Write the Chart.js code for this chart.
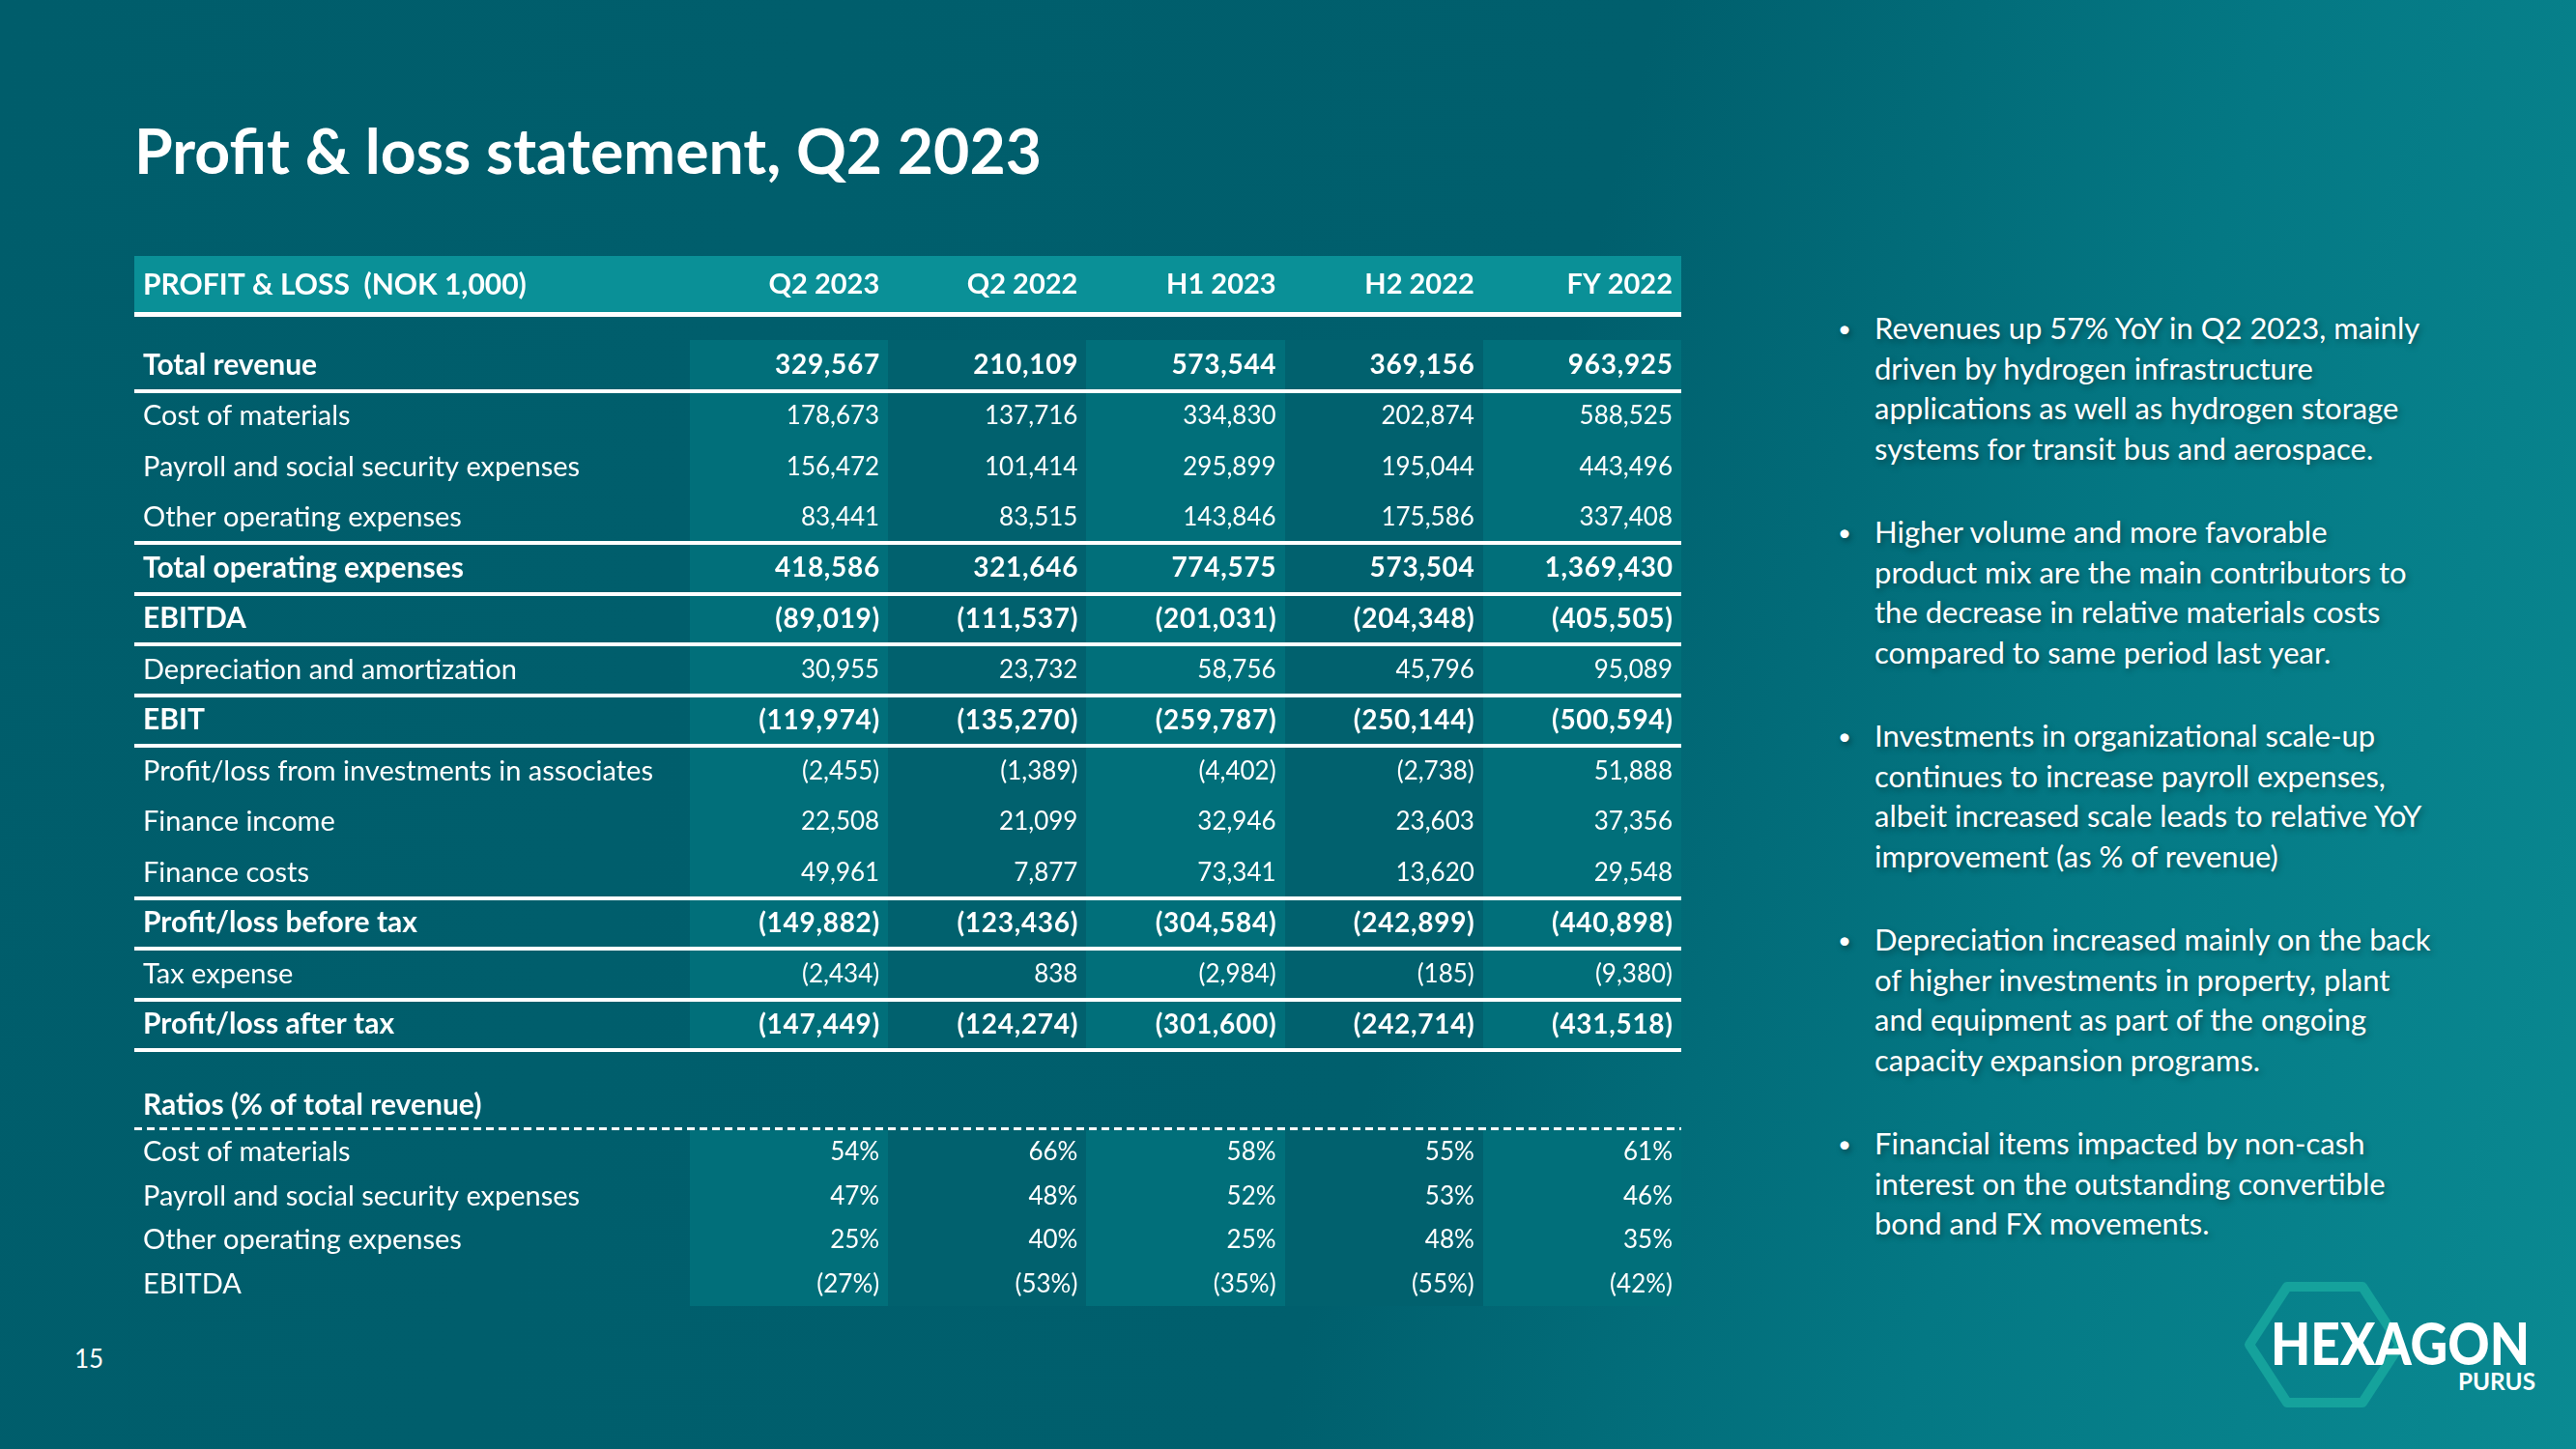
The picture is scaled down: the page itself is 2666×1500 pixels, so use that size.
<!DOCTYPE html>
<html>
<head>
<meta charset="utf-8">
<script src="https://cdn.jsdelivr.net/npm/chart.js@4.4.1/dist/chart.umd.min.js"></script>
<style>
html,body{margin:0;padding:0;}
body{width:2666px;height:1500px;overflow:hidden;position:relative;
  background:linear-gradient(105deg,#005d6b 0%,#005f6d 56%,#047884 77%,#0a8a92 100%);
  font-family:Lato,'Open Sans',sans-serif;color:#fff;}
#titleSvg{position:absolute;left:0;top:0;}
#mainWrap{position:absolute;left:139px;top:265px;width:1601px;height:844px;}
#ratioWrap{position:absolute;left:139px;top:1110px;width:1601px;height:264px;}
#notes{position:absolute;left:1908px;top:319px;margin:0;padding:0;list-style:none;
  font-size:31px;line-height:41.5px;text-shadow:2px 3px 6px rgba(0,0,0,0.35);}
#notes li{position:relative;padding-left:32px;white-space:nowrap;margin-bottom:45px;}
#notes li::before{content:'\2022';position:absolute;left:-6px;top:0;font-size:24px;}
#pageNo{position:absolute;left:77px;top:1390px;font-size:26px;line-height:32px;}
#logo{position:absolute;left:2300px;top:1300px;}
</style>
</head>
<body>
<svg id="titleSvg" width="1200" height="230">
  <text x="139" y="180" font-family="Lato" font-weight="700" font-size="65" fill="#ffffff"
        textLength="939" lengthAdjust="spacingAndGlyphs">Profit &amp; loss statement, Q2 2023</text>
</svg>

<div id="mainWrap"><canvas id="mainChart" width="1601" height="844"></canvas></div>
<div id="ratioWrap"><canvas id="ratioChart" width="1601" height="264"></canvas></div>

<ul id="notes">
  <li>Revenues up 57% YoY in Q2 2023, mainly<br>driven by hydrogen infrastructure<br>applications as well as hydrogen storage<br>systems for transit bus and aerospace.</li>
  <li>Higher volume and more favorable<br>product mix are the main contributors to<br>the decrease in relative materials costs<br>compared to same period last year.</li>
  <li>Investments in organizational scale-up<br>continues to increase payroll expenses,<br>albeit increased scale leads to relative YoY<br>improvement (as % of revenue)</li>
  <li>Depreciation increased mainly on the back<br>of higher investments in property, plant<br>and equipment as part of the ongoing<br>capacity expansion programs.</li>
  <li>Financial items impacted by non-cash<br>interest on the outstanding convertible<br>bond and FX movements.</li>
</ul>

<div id="pageNo">15</div>

<svg id="logo" width="366" height="200">
  <polygon points="28,92 67,32 145,32 184,92 145,152 67,152" fill="none" stroke="#18a89f" stroke-width="10" stroke-linejoin="round" opacity="0.85"/>
  <text x="50" y="113" font-family="Lato" font-weight="900" font-size="60" fill="#ffffff" textLength="268" lengthAdjust="spacingAndGlyphs">HEXAGON</text>
  <text x="244" y="139" font-family="Lato" font-weight="700" font-size="25" fill="#ffffff" textLength="80" lengthAdjust="spacingAndGlyphs">PURUS</text>
</svg>

<script>
// ---------------- DATA ----------------
const tableTitle = 'PROFIT & LOSS  (NOK 1,000)';
const columns = ['Q2 2023', 'Q2 2022', 'H1 2023', 'H2 2022', 'FY 2022'];

const rowLabels = [
  'Total revenue',
  'Cost of materials',
  'Payroll and social security expenses',
  'Other operating expenses',
  'Total operating expenses',
  'EBITDA',
  'Depreciation and amortization',
  'EBIT',
  'Profit/loss from investments in associates',
  'Finance income',
  'Finance costs',
  'Profit/loss before tax',
  'Tax expense',
  'Profit/loss after tax'
];
const subtotalRows = ['Total revenue', 'Total operating expenses', 'EBITDA', 'EBIT',
  'Profit/loss before tax', 'Profit/loss after tax'];

const q2_2023 = [329567, 178673, 156472, 83441, 418586, -89019, 30955, -119974, -2455, 22508, 49961, -149882, -2434, -147449];
const q2_2022 = [210109, 137716, 101414, 83515, 321646, -111537, 23732, -135270, -1389, 21099, 7877, -123436, 838, -124274];
const h1_2023 = [573544, 334830, 295899, 143846, 774575, -201031, 58756, -259787, -4402, 32946, 73341, -304584, -2984, -301600];
const h2_2022 = [369156, 202874, 195044, 175586, 573504, -204348, 45796, -250144, -2738, 23603, 13620, -242899, -185, -242714];
const fy_2022 = [963925, 588525, 443496, 337408, 1369430, -405505, 95089, -500594, 51888, 37356, 29548, -440898, -9380, -431518];

const ratioTitle = 'Ratios (% of total revenue)';
const ratioLabels = ['Cost of materials', 'Payroll and social security expenses', 'Other operating expenses', 'EBITDA'];
const ratioQ2_2023 = [54, 47, 25, -27];
const ratioQ2_2022 = [66, 48, 40, -53];
const ratioH1_2023 = [58, 52, 25, -35];
const ratioH2_2022 = [55, 53, 48, -55];
const ratioFY_2022 = [61, 46, 35, -42];

// ---------------- STYLE ----------------
const FONT = 'Lato';
const NUM_FS = 26;        // regular numbers
const NUM_BOLD_FS = 28;   // bold numbers
const NUM_BOLD_LS = 0.7;  // letter spacing for bold numbers
const LABEL_FS = 29;
const LABEL_BOLD_FS = 30;
const LIGHT_BAND = '#016f7a';
const DARK_BAND = '#01616e';
const HEADER_BG = '#0a9097';
const CELL_INSET = 9;

const fmtNum = v => v < 0 ? '(' + Math.abs(v).toLocaleString('en-US') + ')' : v.toLocaleString('en-US');
const fmtPct = v => v < 0 ? '(' + Math.abs(v) + '%)' : v + '%';

function cellDatasets(rows, seriesList) {
  return seriesList.map((vals, c) => ({
    label: columns[c],
    data: rows.map((r, i) => ({ x: columns[c], y: r, v: vals[i] })),
    showLine: false, pointRadius: 0, pointHoverRadius: 0
  }));
}

function tablePlugin(o) {
  return {
    id: 'tableDraw',
    beforeDatasetsDraw(chart) {
      const { ctx, chartArea: a, scales: { x } } = chart;
      const band = x.width / columns.length;
      ctx.save();
      columns.forEach((c, i) => {
        const cx = x.getPixelForValue(i);
        ctx.fillStyle = i % 2 === 0 ? LIGHT_BAND : DARK_BAND;
        ctx.fillRect(Math.round(cx - band / 2), a.top, Math.round(band) + 1, a.bottom - a.top);
      });
      ctx.restore();
    },
    afterDatasetsDraw(chart) {
      const { ctx, chartArea: a, scales: { x, y } } = chart;
      const band = x.width / columns.length;
      ctx.save();
      ctx.fillStyle = '#ffffff';
      ctx.textAlign = 'right';
      ctx.textBaseline = 'middle';
      chart.data.datasets.forEach((ds, di) => {
        chart.getDatasetMeta(di).data.forEach((pt, i) => {
          const r = ds.data[i];
          const bold = o.bold.includes(r.y);
          ctx.font = bold ? ('bold ' + NUM_BOLD_FS + 'px ' + FONT) : (NUM_FS + 'px ' + FONT);
          const ls = bold ? NUM_BOLD_LS : 0;
          if ('letterSpacing' in ctx) ctx.letterSpacing = ls + 'px';
          ctx.fillText(o.fmt(r.v), pt.x + band / 2 - CELL_INSET + ls, pt.y);
        });
      });
      if ('letterSpacing' in ctx) ctx.letterSpacing = '0px';
      // rules
      const rows = y.getLabels();
      const rh = y.height / rows.length;
      const ys = new Set();
      rows.forEach((r, i) => {
        if (o.bold.includes(r)) {
          const cy = y.getPixelForValue(i);
          ys.add(Math.round(cy + rh / 2));
          if (i > 0) ys.add(Math.round(cy - rh / 2));
        }
      });
      ctx.fillStyle = '#ffffff';
      ys.forEach(yy => ctx.fillRect(0, yy - 2, chart.width, 4));
      // header / heading
      if (o.header) {
        ctx.fillStyle = HEADER_BG;
        ctx.fillRect(0, 0, chart.width, 58);
        ctx.fillStyle = '#ffffff';
        ctx.fillRect(0, 58, chart.width, 5);
        ctx.font = 'bold ' + LABEL_BOLD_FS + 'px ' + FONT;
        ctx.textAlign = 'left';
        ctx.fillText(o.header, CELL_INSET, 30);
        ctx.font = 'bold ' + LABEL_FS + 'px ' + FONT;
        ctx.textAlign = 'right';
        columns.forEach((c, i) => {
          ctx.fillText(c, x.getPixelForValue(i) + band / 2 - CELL_INSET, 30);
        });
      }
      if (o.heading) {
        ctx.font = 'bold ' + LABEL_BOLD_FS + 'px ' + FONT;
        ctx.textAlign = 'left';
        ctx.fillText(o.heading, CELL_INSET, 34);
        ctx.strokeStyle = '#ffffff';
        ctx.lineWidth = 3;
        ctx.setLineDash([8, 5]);
        ctx.beginPath();
        ctx.moveTo(0, a.top - 1.5);
        ctx.lineTo(chart.width, a.top - 1.5);
        ctx.stroke();
      }
      ctx.restore();
    }
  };
}

function makeTable(canvasId, rows, series, o, pad) {
  return new Chart(document.getElementById(canvasId), {
    type: 'line',
    data: { labels: columns, datasets: cellDatasets(rows, series) },
    options: {
      responsive: false, maintainAspectRatio: false, animation: false,
      devicePixelRatio: 1,
      events: [],
      layout: { padding: pad },
      plugins: { legend: { display: false }, tooltip: { enabled: false }, title: { display: false } },
      scales: {
        x: { type: 'category', display: false, offset: true },
        y: {
          type: 'category', labels: rows, offset: true, position: 'left',
          grid: { display: false, drawTicks: false }, border: { display: false },
          afterFit: s => { s.width = 566; },
          ticks: {
            autoSkip: false, color: '#ffffff', padding: 0, crossAlign: 'far',
            font: c => {
              const b = o.bold.includes(rows[c.index]);
              return { family: FONT, size: b ? LABEL_BOLD_FS : LABEL_FS, weight: b ? 'bold' : 'normal' };
            }
          }
        }
      }
    },
    plugins: [tablePlugin(o)]
  });
}

makeTable('mainChart', rowLabels, [q2_2023, q2_2022, h1_2023, h2_2022, fy_2022],
  { bold: subtotalRows, fmt: fmtNum, header: tableTitle },
  { left: 9, top: 87, right: 0, bottom: 22 });

makeTable('ratioChart', ratioLabels, [ratioQ2_2023, ratioQ2_2022, ratioH1_2023, ratioH2_2022, ratioFY_2022],
  { bold: [], fmt: fmtPct, heading: ratioTitle },
  { left: 9, top: 60, right: 0, bottom: 22 });
</script>
</body>
</html>
